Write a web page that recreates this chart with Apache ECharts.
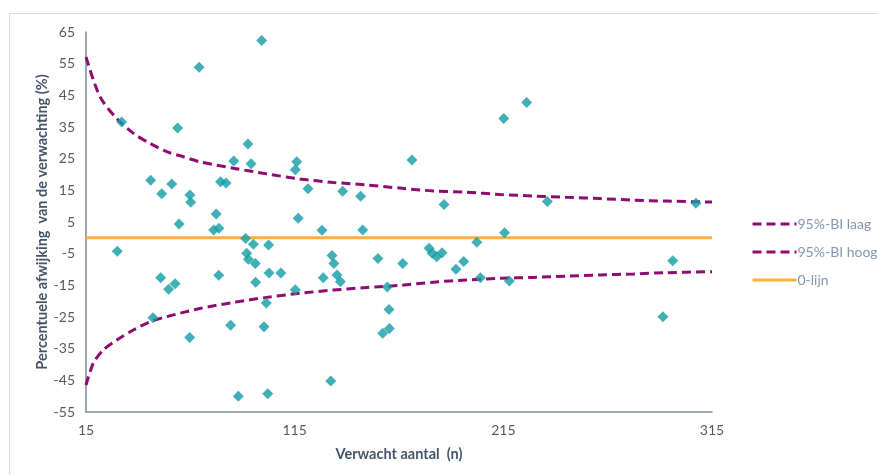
<!DOCTYPE html>
<html>
<head>
<meta charset="utf-8">
<script src="https://cdn.jsdelivr.net/npm/echarts@6/dist/echarts.min.js"></script>
<style>
html,body{margin:0;padding:0;background:#fff;}
#main{width:877px;height:475px;}
</style>
</head>
<body>
<div id="main"></div>
<script>
// Observed points: expected count (n) and percentage deviation (%)
var obsX = [30.0, 32.1, 46.0, 51.3, 56.1, 58.9, 64.8, 65.2, 59.6, 69.2, 77.4, 76.2, 78.7, 79.5, 82.1, 85.8, 92.6, 94.1, 99.2, 116.0, 115.3, 116.7, 121.4, 128.1, 138.0, 146.6, 147.6, 171.2, 186.6, 215.2, 226.2, 236.1, 307.3, 215.6, 202.3,
            50.8, 54.6, 57.7, 47.1, 64.7, 78.6, 84.3, 88.0, 91.5, 92.0, 92.8, 95.2, 96.1, 96.3, 101.4, 100.3, 102.1, 102.5, 102.7, 108.4, 115.3, 128.7, 132.3, 132.9, 133.8, 135.3, 136.9, 154.9, 159.4, 160.2, 160.4, 157.2, 166.8, 179.4, 180.9, 183.1, 185.6, 192.3, 196.0, 204.0, 217.9, 296.2, 291.5];
var obsY = [-4.2, 36.6, 18.2, 13.9, 17.0, 34.7, 13.5, 11.2, 4.4, 53.9, 7.5, 2.5, 3.0, 17.7, 17.3, 24.3, 29.6, 23.4, 62.3, 24.0, 21.5, 6.2, 15.5, 2.4, 14.7, 13.1, 2.5, 24.6, 10.5, 37.7, 42.7, 11.5, 10.9, 1.6, -1.4,
            -12.6, -16.2, -14.5, -25.2, -31.5, -11.8, -27.6, -50.0, -0.2, -4.9, -6.8, -2.0, -8.1, -14.0, -20.6, -28.1, -49.2, -2.3, -11.1, -11.1, -16.4, -12.6, -45.2, -5.6, -8.1, -11.7, -13.9, -6.5, -15.5, -22.6, -28.6, -30.1, -8.1, -3.3, -4.9, -6.0, -4.7, -9.9, -7.5, -12.6, -13.6, -7.2, -24.9];

// 95% confidence bounds
var hoogX = [15, 21.7, 29.7, 37.7, 45.7, 53.7, 61.6, 69.6, 85.6, 101.6, 117.6, 133.5, 149.5, 165.5, 181.4, 197.4, 213.4, 229.4, 245.4, 261.3, 277.3, 293.3, 315];
var hoogY = [57.1, 44.6, 37.7, 33.0, 29.8, 27.2, 25.6, 24.0, 22.0, 20.2, 18.6, 17.5, 16.7, 15.7, 14.8, 14.4, 13.7, 13.2, 12.8, 12.4, 11.9, 11.6, 11.3];
var laagX = [15, 18.5, 23.3, 29.7, 37.7, 45.7, 53.7, 69.6, 85.6, 101.6, 117.6, 133.5, 149.5, 165.5, 181.4, 197.4, 213.4, 229.4, 245.4, 261.3, 277.3, 293.3, 315];
var laagY = [-46.5, -39.6, -35.4, -32.3, -29.1, -26.5, -24.9, -22.3, -20.4, -18.8, -17.5, -16.5, -15.7, -15.0, -14.0, -13.3, -12.8, -12.5, -12.1, -11.7, -11.4, -11.0, -10.7];
var nulX = [15, 315];
var nulY = [0, 0];

var xTicks = [15, 115, 215, 315];
var yTicks = [65, 55, 45, 35, 25, 15, 5, -5, -15, -25, -35, -45, -55];

function zip(a, b) { return a.map(function (v, i) { return [v, b[i]]; }); }

var FONT = 'Lato, "Open Sans", sans-serif';
var chart = echarts.init(document.getElementById('main'));
chart.setOption({
  animation: false,
  backgroundColor: '#fff',
  graphic: [{
    type: 'rect', silent: true, z: -10,
    shape: { x: 9.5, y: 13.5, width: 900, height: 600 },
    style: { fill: 'none', stroke: '#d9d9d9', lineWidth: 1 }
  }],
  grid: { left: 86, right: 165, top: 32, bottom: 63 },
  legend: {
    orient: 'vertical', left: 746, top: 212,
    itemWidth: 44, itemHeight: 14, itemGap: 14,
    data: ['95%-BI laag', '95%-BI hoog', '0-lijn'],
    itemStyle: { opacity: 0 },
    lineStyle: { width: 3 },
    textStyle: { color: '#8497b0', fontSize: 14, fontFamily: FONT, padding: [0, 0, 0, -4] }
  },
  xAxis: {
    type: 'value', min: 15, max: 315, interval: 5,
    name: 'Verwacht aantal  (n)', nameLocation: 'middle', nameGap: 35, nameMoveOverlap: false,
    nameTextStyle: { color: '#44546a', fontSize: 14.5, fontWeight: 'bold', fontFamily: FONT },
    axisLine: { show: true, onZero: false, lineStyle: { color: '#7f8a9e', width: 1.5 } },
    axisTick: { show: false },
    splitLine: { show: false },
    axisLabel: {
      color: '#595959', fontSize: 14, fontFamily: FONT, margin: 11,
      formatter: function (v) { return xTicks.indexOf(Math.round(v)) >= 0 ? String(Math.round(v)) : ''; }
    }
  },
  yAxis: {
    type: 'value', min: -55, max: 65, interval: 5,
    name: 'Percentuele afwijking  van de verwachting (%)', nameLocation: 'middle', nameGap: 36, nameMoveOverlap: false,
    nameTextStyle: { color: '#44546a', fontSize: 14.5, fontWeight: 'bold', fontFamily: FONT },
    axisLine: { show: true, onZero: false, lineStyle: { color: '#7f8a9e', width: 1.5 } },
    axisTick: { show: false },
    splitLine: { show: false },
    axisLabel: {
      color: '#595959', fontSize: 14, fontFamily: FONT, margin: 11,
      formatter: function (v) { return yTicks.indexOf(Math.round(v)) >= 0 ? String(Math.round(v)) : ''; }
    }
  },
  series: [
    {
      name: '0-lijn', type: 'line', data: zip(nulX, nulY), symbol: 'none', z: 2,
      lineStyle: { color: '#ffb03b', width: 3 }, itemStyle: { color: '#ffb03b' }
    },
    {
      name: '95%-BI laag', type: 'line', data: zip(laagX, laagY), symbol: 'none', smooth: 0.3, z: 3,
      lineStyle: { color: '#8e0c6f', width: 3, type: [9, 5] }, itemStyle: { color: '#8e0c6f' }
    },
    {
      name: '95%-BI hoog', type: 'line', data: zip(hoogX, hoogY), symbol: 'none', smooth: 0.3, z: 3,
      lineStyle: { color: '#8e0c6f', width: 3, type: [9, 5] }, itemStyle: { color: '#8e0c6f' }
    },
    {
      name: 'Waarneming', type: 'scatter', data: zip(obsX, obsY), symbol: 'diamond', symbolSize: 11, z: 4,
      itemStyle: { color: '#129ca4' }
    }
  ]
});
</script>
</body>
</html>
